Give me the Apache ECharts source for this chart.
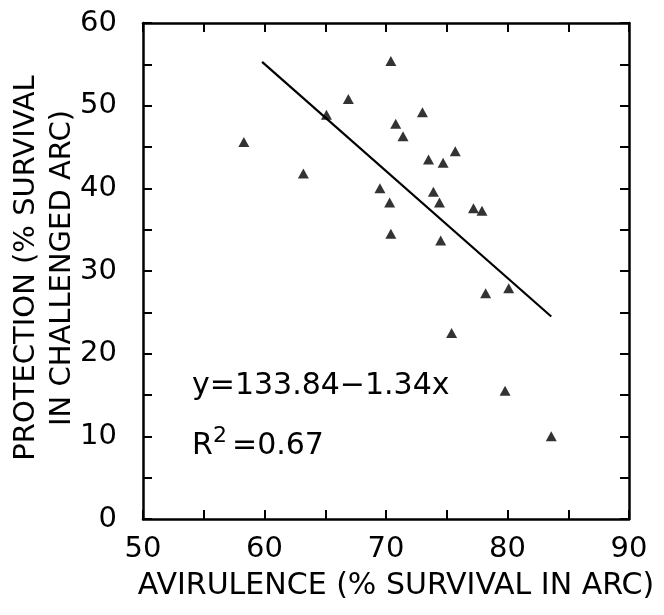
<!DOCTYPE html>
<html>
<head>
<meta charset="utf-8">
<script src="https://cdn.jsdelivr.net/npm/echarts@6/dist/echarts.min.js"></script>
<style>html,body{margin:0;padding:0;background:#fff}#c{width:664px;height:615px}</style>
</head>
<body>
<div id="c"></div>
<script>
var avirulence = [58.3, 63.2, 65.1, 66.9, 70.4, 69.5, 70.3, 70.4, 70.8, 71.4, 73.0, 73.5, 73.9, 74.4, 74.7, 75.7, 74.5, 77.2, 77.9, 78.2, 80.1, 75.4, 79.8, 83.6];
var protection = [45.6, 41.8, 48.9, 50.8, 55.4, 40.0, 38.3, 34.5, 47.8, 46.3, 49.2, 43.5, 39.6, 38.3, 43.1, 44.5, 33.7, 37.6, 37.3, 27.3, 27.9, 22.5, 15.5, 10.0];
var fitX = [59.8, 83.6];
var fitY = [55.3, 24.5];
var xTicks = [50, 60, 70, 80, 90];
var yTicks = [0, 10, 20, 30, 40, 50, 60];
var xTitle = 'AVIRULENCE (% SURVIVAL IN ARC)';
var yTitle = 'PROTECTION (% SURVIVAL\nIN CHALLENGED ARC)';
var eqText = 'y=133.84\u22121.34x';

var FONT = 'DejaVu Sans';
var chart = echarts.init(document.getElementById('c'));
var pts = avirulence.map(function (x, i) { return [x, protection[i]]; });
var fit = fitX.map(function (x, i) { return [x, fitY[i]]; });

function axisCommon() {
  return {
    axisLine: { show: true, onZero: false, lineStyle: { color: '#000', width: 2.5 } },
    axisTick: { show: true, inside: true, length: 9, lineStyle: { color: '#000', width: 2 } },
    splitLine: { show: false }
  };
}
var xLab = {
  show: true, margin: 16, color: '#000', fontFamily: FONT, fontSize: 29,
  formatter: function (v) { return xTicks.indexOf(v) >= 0 ? String(v) : ''; }
};
var yLab = {
  show: true, margin: 26, color: '#000', fontFamily: FONT, fontSize: 29,
  formatter: function (v) { return yTicks.indexOf(v) >= 0 ? String(v) : ''; }
};

chart.setOption({
  animation: false,
  backgroundColor: '#fff',
  grid: { left: 143, right: 35, top: 23, bottom: 96 },
  xAxis: [
    Object.assign({ type: 'value', min: 50, max: 90, interval: 5, position: 'bottom', axisLabel: xLab }, axisCommon()),
    Object.assign({ type: 'value', min: 50, max: 90, interval: 5, position: 'top', axisLabel: { show: false } }, axisCommon())
  ],
  yAxis: [
    Object.assign({ type: 'value', min: 0, max: 60, interval: 5, position: 'left', axisLabel: yLab }, axisCommon()),
    Object.assign({ type: 'value', min: 0, max: 60, interval: 5, position: 'right', axisLabel: { show: false } }, axisCommon())
  ],
  series: [
    {
      type: 'scatter', data: pts, symbol: 'triangle', symbolSize: [11, 10],
      itemStyle: { color: '#000' }, xAxisIndex: 0, yAxisIndex: 0
    },
    {
      type: 'line', data: fit, showSymbol: false, symbol: 'none',
      lineStyle: { color: '#000', width: 2.2 }, xAxisIndex: 0, yAxisIndex: 0
    }
  ],
  graphic: [
    {
      type: 'text', x: 396, y: 586,
      style: { text: xTitle, fontFamily: FONT, fontSize: 30, fill: '#000', align: 'center', verticalAlign: 'middle' }
    },
    {
      type: 'text', x: 44, y: 268, rotation: Math.PI / 2,
      style: { text: yTitle, fontFamily: FONT, fontSize: 29, lineHeight: 36, fill: '#000', align: 'center', verticalAlign: 'middle' }
    },
    {
      type: 'text', x: 192, y: 386,
      style: { text: eqText, fontFamily: FONT, fontSize: 30, fill: '#000', align: 'left', verticalAlign: 'middle' }
    },
    {
      type: 'text', x: 192, y: 446,
      style: { text: 'R', fontFamily: FONT, fontSize: 30, fill: '#000', align: 'left', verticalAlign: 'middle' }
    },
    {
      type: 'text', x: 213, y: 425,
      style: { text: '2', fontFamily: FONT, fontSize: 22, fill: '#000', align: 'left', verticalAlign: 'top' }
    },
    {
      type: 'text', x: 232, y: 446,
      style: { text: '=0.67', fontFamily: FONT, fontSize: 30, fill: '#000', align: 'left', verticalAlign: 'middle' }
    }
  ]
});
</script>
</body>
</html>
